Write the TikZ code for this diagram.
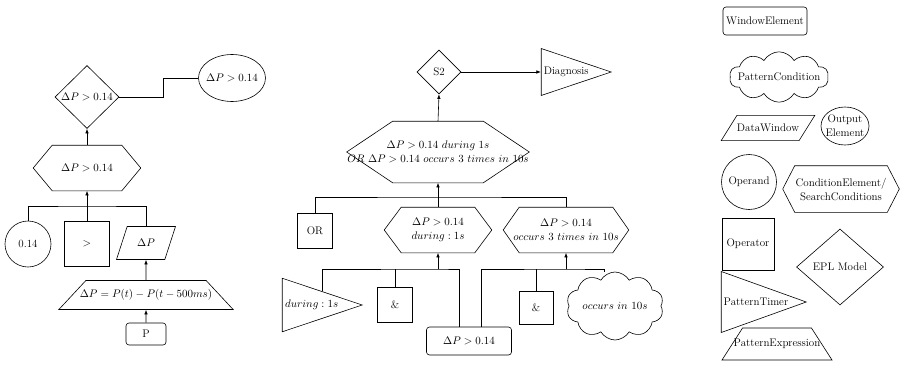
\documentclass[tikz,border=0pt]{standalone}
\usepackage{amsmath,amssymb}
\usepackage{tikz}
\usetikzlibrary{shapes.geometric,shapes.symbols,arrows.meta}

\tikzset{
  opnd/.style={draw, circle, inner sep=0.75pt},
  oprt/.style={draw, rectangle, inner sep=0.75pt},
  wind/.style={draw, rectangle, rounded corners=3pt, inner sep=0.75pt},
  outel/.style={draw, ellipse, inner sep=0pt, align=center},
  epl/.style={draw, diamond, inner sep=0pt},
  dwin/.style={draw, trapezium, trapezium left angle=70, trapezium right angle=110,
    trapezium stretches body, inner xsep=0pt},
  pexp/.style={draw, trapezium, trapezium stretches body, inner xsep=0pt},
  ptim/.style={draw, isosceles triangle, isosceles triangle stretches,
    shape border rotate=0, inner sep=0pt},
  pcond/.style={draw, cloud, cloud puffs=10, cloud puff arc=120, aspect=2, inner sep=0pt},
  cond/.style={rectangle, align=center, inner xsep=0pt, inner ysep=0.75pt},
  arr/.style={-{Latex[length=4.5pt,width=3.5pt]}}
}
% hexagon outline round a cond node: name, depth of the points
\newcommand{\hexpath}[2]{%
  \draw (#1.west) -- ([xshift=#2]#1.north west) -- ([xshift=-#2]#1.north east)
    -- (#1.east) -- ([xshift=-#2]#1.south east) -- ([xshift=#2]#1.south west) -- cycle;}

\begin{document}
\begin{tikzpicture}[x=1pt,y=1pt,yscale=-1,xscale=1,line width=0.6pt,font=\fontsize{11}{14}\selectfont]
\useasboundingbox (0,0) rectangle (904,369);

%Shapes: left model
\node [epl, minimum width=64pt, minimum height=63pt] (dm1) at (87,97) {$\Delta P > 0.14$};
\node [outel, inner xsep=-4pt, minimum width=67pt, minimum height=47pt] (el1) at (232,78) {$\Delta P > 0.14$};
\node [cond, minimum width=107pt, minimum height=45pt] (hx1) at (87,168) {$\Delta P > 0.14$};
\hexpath{hx1}{19pt}
\node [opnd, minimum size=46pt] (c014) at (28,244) {0.14};
\node [oprt, minimum size=45pt] (gt) at (87,244) {$>$};
\node [dwin, trapezium left angle=72, trapezium right angle=108, inner ysep=12.7pt, minimum width=59pt, minimum height=33pt] (dp) at (146,243) {$\Delta P$};
\node [pexp, trapezium angle=47, inner xsep=-6pt, inner ysep=9pt, minimum width=174pt, minimum height=29pt] (dpx) at (146,295) {$\Delta P = P(t) - P(t-500ms)$};
\node [wind, minimum width=40pt, minimum height=22pt] (pw) at (146,334) {P};
\coordinate (bus1) at (87,206);

%Straight Lines
\draw (dm1.east) -- ++(44,0) |- (el1.west);
\draw [arr] (hx1.north) -- (dm1.south);
\draw (c014.north) |- (bus1) -| (dp.north);
\draw (gt.north) -- (bus1);
\draw [arr] (bus1) -- (hx1.south);
\draw [arr] (dpx.north) -- (dp.south);
\draw [arr] (pw.north) -- (dpx.south);

%Shapes: middle model
\node [epl, minimum size=44pt] (s2) at (439,72) {S2};
\node [ptim, minimum height=70pt, minimum width=45pt, anchor=apex] (diag) at (612,72) {Diagnosis};
\node [cond, minimum width=182pt, minimum height=61pt] (bh) at (438,152)
  {$\Delta P > 0.14 \ during \ 1s$\\ $OR \ \Delta P > 0.14 \ occurs \ 3 \ times \ in \ 10s$};
\hexpath{bh}{46pt}
\node [oprt, minimum size=35pt] (orbox) at (315,231) {OR};
\node [cond, minimum width=107pt, minimum height=45pt] (hx2) at (438,230) {$\Delta P > 0.14$\\ $during : 1s$};
\hexpath{hx2}{17pt}
\node [cond, minimum width=125pt, minimum height=45pt] (hx3) at (566,230) {$\Delta P > 0.14$\\ $occurs \ 3 \ times \ in \ 10s$};
\hexpath{hx3}{16pt}
\node [ptim, minimum height=80pt, minimum width=53pt, anchor=apex] (dtim) at (363,305) {$during : 1s$};
\node [oprt, minimum size=35pt] (and1) at (395,305) {\&};
\node [wind, minimum width=85pt, minimum height=28pt] (dwe) at (469,341) {$\Delta P > 0.14$};
\node [oprt, minimum width=34pt, minimum height=33pt] (and2) at (536,308) {\&};
\node [pcond, minimum width=97pt, minimum height=68pt] (occ) at (615,306) {$occurs \ in \ 10s$};
\coordinate (bus2) at (438,197);
\coordinate (bus3) at (438,269);
\coordinate (bus4) at (566,269);

%Straight Lines
\draw [arr] (s2.east) -- (diag.lower side);
\draw [arr] (bh.north) -- (s2.south);
\draw (orbox.north) |- (bus2) -| (hx3.north);
\draw [arr] (hx2.north) -- (bh.south);
\draw (dtim.left side) |- (bus3) -| ([xshift=-10pt]dwe.north);
\draw (and1.north) -- (and1.north |- bus3);
\draw [arr] (bus3) -- (hx2.south);
\draw ([xshift=12pt]dwe.north) |- (bus4) -| ([xshift=-11pt]occ.north);
\draw (and2.north) -- (and2.north |- bus4);
\draw [arr] (bus4) -- (hx3.south);

%Shapes: legend
\node [wind, minimum width=84pt, minimum height=28pt] (lwin) at (765,21) {WindowElement};
\node [pcond, inner xsep=-14pt, inner ysep=3pt, minimum width=99pt, minimum height=47pt] (lpc) at (779,77) {PatternCondition};
\node [dwin, trapezium left angle=58, trapezium right angle=122, inner ysep=8.7pt, minimum width=88pt, minimum height=25pt] (ldw) at (768,128) {DataWindow};
\node [outel, inner xsep=-3pt, minimum width=48pt, minimum height=38pt] (lout) at (845,126) {Output\\Element};
\node [opnd, minimum size=55pt] (lopd) at (749,182) {Operand};
\node [cond, minimum width=116pt, minimum height=46pt] (lce) at (841,189) {ConditionElement/\\SearchConditions};
\hexpath{lce}{12pt}
\node [oprt, minimum size=52pt] (lopr) at (748,244) {Operator};
\node [epl, minimum width=87pt, minimum height=76pt] (lepl) at (840,267) {EPL Model};
\node [ptim, minimum height=85pt, minimum width=55pt, anchor=apex] (lpt) at (807,302) {PatternTimer};
\node [pexp, trapezium angle=57, inner xsep=-11pt, inner ysep=11pt, minimum width=110pt, minimum height=32pt] (lpe) at (777,344) {PatternExpression};

\end{tikzpicture}
\end{document}
